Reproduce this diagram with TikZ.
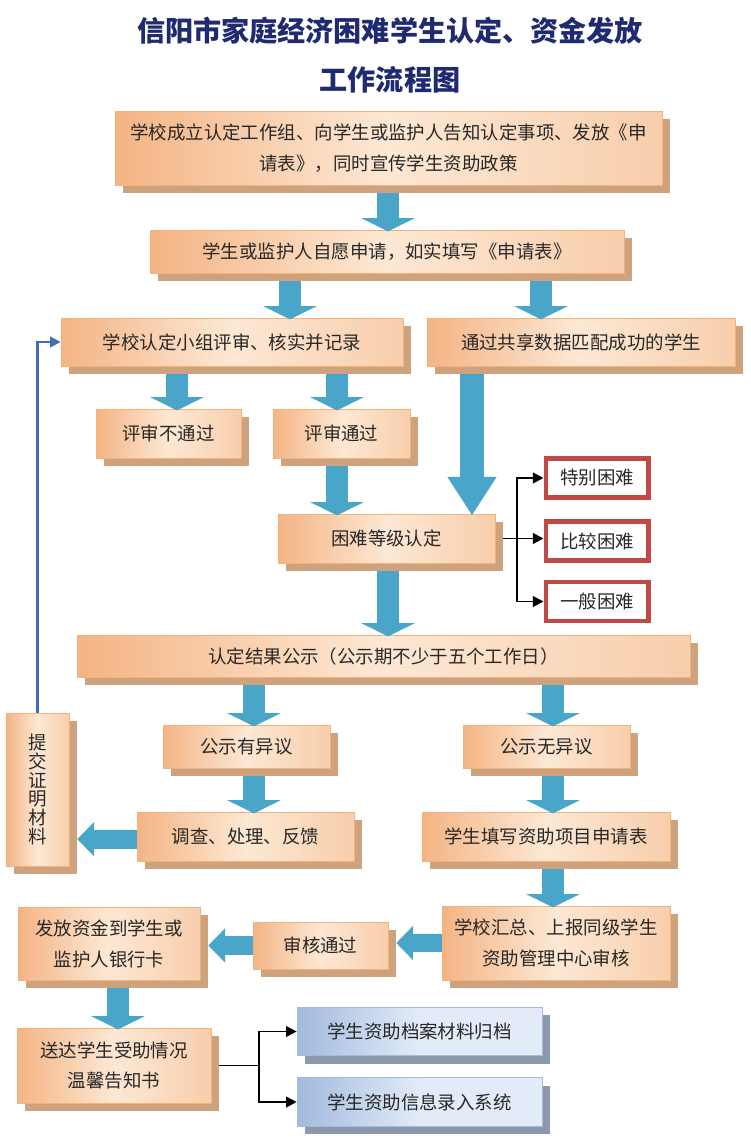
\documentclass[tikz,border=0pt]{standalone}
\usepackage{fontspec}
\newfontfamily\cjk{Noto Sans CJK SC}
\usetikzlibrary{arrows.meta, positioning, calc, shadows}
\definecolor{titlenavy}{RGB}{32, 42, 112}
\definecolor{boxedge}{RGB}{242, 178, 124}
\definecolor{boxdeep}{RGB}{244, 180, 132}
\definecolor{boxpale}{RGB}{253, 232, 212}
\definecolor{boxright}{RGB}{248, 206, 172}
\definecolor{boxshade}{RGB}{205, 162, 125}
\definecolor{pipeblue}{RGB}{74, 166, 200}
\definecolor{lineblue}{RGB}{68, 108, 188}
\definecolor{levelred}{RGB}{192, 72, 70}
\definecolor{archdeep}{RGB}{162, 186, 222}
\definecolor{archpale}{RGB}{226, 235, 247}
\definecolor{archshade}{RGB}{140, 152, 174}
\definecolor{inktext}{RGB}{40, 40, 40}

\begin{document}
\begin{tikzpicture}[x=0.02cm, y=-0.02cm,
  obox/.style={left color=boxdeep, right color=boxright, middle color=boxpale, draw=boxedge, line width=0.4pt, align=center, inner sep=0pt, text=inktext, font=\cjk\fontsize{10.5pt}{17.6pt}\selectfont, drop shadow={shadow xshift=4.5pt, shadow yshift=-4.5pt, fill=boxshade, opacity=1}},
  abox/.style={obox, left color=archdeep, right color=archpale, middle color=archpale, draw=archdeep, drop shadow={shadow xshift=4.5pt, shadow yshift=-4.5pt, fill=archshade, opacity=1}},
  lvl/.style={draw=levelred, line width=2.3pt, fill=white, minimum width=2.06cm, minimum height=0.78cm, inner sep=0pt, text=inktext, font=\cjk\fontsize{10.5pt}{12pt}\selectfont},
  varrow/.style={pipeblue, line width=13pt, -{Triangle[width=30pt, length=7.5pt]}, shorten <=4.5pt, shorten >=-1pt},
  longarrow/.style={pipeblue, line width=14pt, -{Triangle[width=26.6pt, length=22pt]}, shorten <=4.5pt, shorten >=-1pt},
  harrow/.style={pipeblue, line width=10.8pt, -{Triangle[width=19pt, length=9.6pt]}, shorten >=4.5pt},
  fork/.style={line width=1.1pt, -{Triangle[width=6pt, length=6pt]}},
  backline/.style={lineblue, line width=1.2pt, -{Triangle[width=6pt, length=6pt]}}
]
  \useasboundingbox (0,0) rectangle (750,1148);
  \node[font=\cjk\bfseries\fontsize{16pt}{28pt}\selectfont, text=titlenavy, align=center] (title) at (390,55) {信阳市家庭经济困难学生认定、资金发放\\工作流程图};

  \node[obox, minimum width=10.94cm, minimum height=1.48cm] (start) at (388.5,148) {学校成立认定工作组、向学生或监护人告知认定事项、发放《申\\请表》，同时宣传学生资助政策};
  \node[obox, minimum width=9.48cm, minimum height=0.86cm] (apply) at (387,251.5) {学生或监护人自愿申请，如实填写《申请表》};
  \node[obox, minimum width=6.84cm, minimum height=0.96cm] (review) at (232,342) {学校认定小组评审、核实并记录};
  \node[obox, minimum width=6.16cm, minimum height=0.96cm] (shared) at (581,342) {通过共享数据匹配成功的学生};
  \node[obox, minimum width=2.90cm, minimum height=0.98cm] (fail) at (168.5,433.5) {评审不通过};
  \node[obox, minimum width=2.74cm, minimum height=0.98cm] (pass) at (341.5,433.5) {评审通过};
  \node[obox, minimum width=4.34cm, minimum height=0.98cm] (grade) at (386.5,538.5) {困难等级认定};
  \node[lvl] (special) at (597,478) {特别困难};
  \node[lvl] (rather) at (597,541) {比较困难};
  \node[lvl] (normal) at (597,601.5) {一般困难};
  \node[obox, minimum width=12.26cm, minimum height=0.84cm] (notice) at (383.5,656) {认定结果公示（公示期不少于五个工作日）};
  \node[obox, minimum width=3.34cm, minimum height=0.86cm] (objection) at (246.5,746.5) {公示有异议};
  \node[obox, minimum width=3.34cm, minimum height=0.86cm] (noobjection) at (546.5,746.5) {公示无异议};
  \node[obox, minimum width=4.34cm, minimum height=0.98cm] (investigate) at (245.5,836.5) {调查、处理、反馈};
  \node[obox, minimum width=4.96cm, minimum height=0.98cm] (form) at (546,836.5) {学生填写资助项目申请表};
  \node[obox, minimum width=1.26cm, minimum height=3.06cm, font=\cjk\fontsize{10.5pt}{10.7pt}\selectfont] (proof) at (37.5,789.5) {提\\交\\证\\明\\材\\料};
  \node[obox, minimum width=4.56cm, minimum height=1.48cm] (report) at (556,943) {学校汇总、上报同级学生\\资助管理中心审核};
  \node[obox, minimum width=2.70cm, minimum height=0.94cm] (approved) at (320.5,945.5) {审核通过};
  \node[obox, minimum width=3.64cm, minimum height=1.46cm] (payout) at (109,943.5) {发放资金到学生或\\监护人银行卡};
  \node[obox, minimum width=3.88cm, minimum height=1.50cm] (letter) at (114,1065.5) {送达学生受助情况\\温馨告知书};
  \node[abox, minimum width=4.90cm, minimum height=0.97cm] (archive) at (419.5,1031.5) {学生资助档案材料归档};
  \node[abox, minimum width=4.90cm, minimum height=0.97cm] (system) at (419.5,1102) {学生资助信息录入系统};

  \coordinate (q1) at (388,0);
  \coordinate (q2) at (290,0);
  \coordinate (q3) at (541,0);
  \coordinate (q4) at (177,0);
  \coordinate (q5) at (337,0);
  \coordinate (q6) at (472,0);
  \coordinate (q7) at (254,0);
  \coordinate (q8) at (553,0);
  \coordinate (q9) at (118,0);
  \coordinate (fk1) at (517,0);
  \coordinate (fk2) at (259,0);

  \draw[varrow] (start.south -| q1) -- (apply.north -| q1);
  \draw[varrow] (apply.south -| q2) -- (review.north -| q2);
  \draw[varrow] (apply.south -| q3) -- (shared.north -| q3);
  \draw[varrow] (review.south -| q4) -- (fail.north -| q4);
  \draw[varrow] (review.south -| q5) -- (pass.north -| q5);
  \draw[varrow] (pass.south -| q5) -- (grade.north -| q5);
  \draw[longarrow] (shared.south -| q6) -- (grade.north -| q6);
  \draw[varrow] (grade.south -| q1) -- (notice.north -| q1);
  \draw[varrow] (notice.south -| q7) -- (objection.north -| q7);
  \draw[varrow] (notice.south -| q8) -- (noobjection.north -| q8);
  \draw[varrow] (objection.south -| q7) -- (investigate.north -| q7);
  \draw[varrow] (noobjection.south -| q8) -- (form.north -| q8);
  \draw[varrow] (form.south -| q8) -- (report.north -| q8);
  \draw[varrow] (payout.south -| q9) -- (letter.north -| q9);
  \draw[harrow] ([yshift=-1.5pt]investigate.west) -- ([yshift=-1.5pt]investigate.west -| proof.east);
  \draw[harrow] (report.west) -- (report.west -| approved.east);
  \draw[harrow] (approved.west) -- (approved.west -| payout.east);

  \draw[backline] (proof.north) |- (review.west);

  \draw[fork, shorten <=4.5pt] (grade.east) -- (grade.east -| rather.west);
  \draw[fork] (grade.east -| fk1) |- (special.west);
  \draw[fork] (grade.east -| fk1) |- (normal.west);
  \draw[line width=1.1pt, shorten <=4.5pt] (letter.east) -- (letter.east -| fk2);
  \draw[fork] (letter.east -| fk2) |- (archive.west);
  \draw[fork] (letter.east -| fk2) |- (system.west);
\end{tikzpicture}
\end{document}
